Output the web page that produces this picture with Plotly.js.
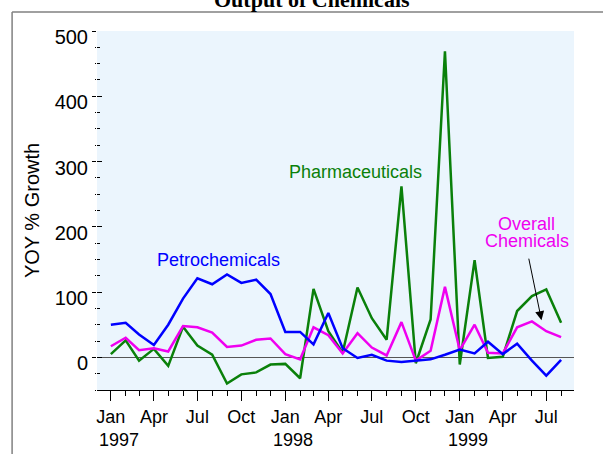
<!DOCTYPE html>
<html>
<head>
<meta charset="utf-8">
<script src="https://cdn.plot.ly/plotly-3.0.1.min.js"></script>
<style>
  html, body { margin: 0; padding: 0; background: #fff; }
  #chart { width: 603px; height: 454px; }
</style>
</head>
<body>
<div id="chart"></div>
<script>
// Monthly YOY growth, Jan 1997 - Aug 1999
const months = [
  '1997-01-01', '1997-02-01', '1997-03-01', '1997-04-01', '1997-05-01', '1997-06-01',
  '1997-07-01', '1997-08-01', '1997-09-01', '1997-10-01', '1997-11-01', '1997-12-01',
  '1998-01-01', '1998-02-01', '1998-03-01', '1998-04-01', '1998-05-01', '1998-06-01',
  '1998-07-01', '1998-08-01', '1998-09-01', '1998-10-01', '1998-11-01', '1998-12-01',
  '1999-01-01', '1999-02-01', '1999-03-01', '1999-04-01', '1999-05-01', '1999-06-01',
  '1999-07-01', '1999-08-01'
];

const petrochemicals = [
  50, 53, 35, 19, 50, 90, 121, 112, 127, 114, 119, 97,
  39, 39, 20, 68, 14, -1, 4, -5, -7, -5, -3, 4,
  12, 6, 24, 5, 21, -5, -28, -4
];

const pharmaceuticals = [
  5, 26, -5, 13, -13, 47, 18, 4, -40, -26, -23, -11,
  -10, -32, 105, 40, 7, 107, 60, 27, 262, -9, 58, 469,
  -11, 149, -1, 1, 71, 94, 104, 53
];

const overall = [
  17, 30, 11, 14, 9, 48, 46, 38, 16, 18, 27, 29,
  5, -3, 46, 34, 6, 37, 15, 3, 54, -5, 10, 108,
  11, 50, 7, 6, 46, 55, 40, 31
];

const majorTicks = ['1997-01-01', '1997-04-01', '1997-07-01', '1997-10-01',
  '1998-01-01', '1998-04-01', '1998-07-01', '1998-10-01',
  '1999-01-01', '1999-04-01', '1999-07-01'];
const majorLabels = ['Jan', 'Apr', 'Jul', 'Oct', 'Jan', 'Apr', 'Jul', 'Oct', 'Jan', 'Apr', 'Jul'];
const yearTicks = ['1997-01-01', '1998-01-01', '1999-01-01'];
const yearLabels = ['1997', '1998', '1999'];

const BLUE = '#0000ff';
const GREEN = '#0a800a';
const MAGENTA = '#f000f0';

const font = 'Liberation Sans, Arial, sans-serif';

const mkLine = (y, color, name) => ({
  x: months, y: y, type: 'scatter', mode: 'lines', name: name,
  line: { color: color, width: 2.5 }, hoverinfo: 'skip'
});

const traces = [
  mkLine(pharmaceuticals, GREEN, 'Pharmaceuticals'),
  mkLine(overall, MAGENTA, 'Overall Chemicals'),
  mkLine(petrochemicals, BLUE, 'Petrochemicals'),
  // empty trace so the inside tick overlay axis gets drawn
  { x: [], y: [], yaxis: 'y2', type: 'scatter', showlegend: false, hoverinfo: 'skip' }
];

const annotations = [
  // chart title, cut off at the top edge like the original
  { xref: 'paper', yref: 'paper', x: 0.451, y: 1.089, xanchor: 'center', yanchor: 'middle',
    text: '<b>Output of Chemicals</b>', showarrow: false,
    font: { family: 'Liberation Serif, Times New Roman, serif', size: 22, color: '#000' } },
  { x: '1997-08-15', y: 149, text: 'Petrochemicals', showarrow: false,
    font: { family: font, size: 18, color: BLUE } },
  { x: '1998-05-27', y: 284, text: 'Pharmaceuticals', showarrow: false,
    font: { family: font, size: 18, color: GREEN } },
  { x: '1999-05-21', y: 205, text: 'Overall', showarrow: false, height: 18,
    font: { family: font, size: 18, color: MAGENTA } },
  { x: '1999-05-21', y: 178, text: 'Chemicals', showarrow: false, height: 18,
    font: { family: font, size: 18, color: MAGENTA } },
  { x: '1999-06-21', y: 57, text: '', showarrow: true, arrowhead: 2, arrowsize: 1.8,
    arrowwidth: 1, arrowcolor: '#000', ax: -13, ay: -63 }
];
yearTicks.forEach((d, i) => annotations.push({
  x: d, xref: 'x', y: -0.139, yref: 'paper', text: yearLabels[i], showarrow: false,
  xanchor: 'left', xshift: -14, yanchor: 'middle',
  font: { family: font, size: 18, color: '#000' }
}));

const layout = {
  width: 603, height: 454,
  margin: { l: 97, r: 29, t: 31, b: 64 },
  paper_bgcolor: '#ffffff',
  plot_bgcolor: '#ebf5fd',
  showlegend: false,
  xaxis: {
    type: 'date',
    range: ['1996-12-03', '1999-08-28'],
    showgrid: false, zeroline: false,
    showline: true, linecolor: '#000', linewidth: 1,
    tickmode: 'array', tickvals: majorTicks, ticktext: majorLabels,
    ticks: 'outside', ticklen: 10, tickcolor: '#000', tickwidth: 1,
    minor: { dtick: 'M1', tick0: '1997-01-01', ticks: 'outside', ticklen: 5, tickcolor: '#000', tickwidth: 1, showgrid: false },
    tickfont: { family: font, size: 18, color: '#000' }
  },
  yaxis: {
    range: [-50, 500],
    showgrid: false, showline: false,
    zeroline: true, zerolinecolor: '#555', zerolinewidth: 1.5,
    tickvals: [0, 100, 200, 300, 400, 500],
    ticks: 'outside', ticklen: 4, tickcolor: '#000', tickwidth: 1,
    minor: { dtick: 25, tick0: 0, ticks: 'outside', ticklen: 1, tickcolor: '#000', tickwidth: 1, showgrid: false },
    tickfont: { family: font, size: 20, color: '#000' },
    ticklabelshift: 6,
    title: { text: 'YOY % Growth', standoff: 9, font: { family: font, size: 20, color: '#000' } }
  },
  yaxis2: {
    overlaying: 'y', side: 'left', range: [-50, 500],
    showgrid: false, showline: false, zeroline: false, showticklabels: false,
    tickvals: [0, 100, 200, 300, 400, 500],
    ticks: 'inside', ticklen: 5, tickcolor: '#000', tickwidth: 1,
    minor: { dtick: 25, tick0: 0, ticks: 'inside', ticklen: 3, tickcolor: '#000', tickwidth: 1, showgrid: false }
  },
  annotations: annotations,
  shapes: [
    // outer frame (top and left edges visible)
    { type: 'line', xref: 'paper', yref: 'paper', x0: -0.178, x1: 1.07, y0: 1.053, y1: 1.053,
      line: { color: '#808080', width: 1.5 } },
    { type: 'line', xref: 'paper', yref: 'paper', x0: -0.178, x1: -0.178, y0: 1.053, y1: -0.2,
      line: { color: '#808080', width: 1.5 } }
  ]
};

Plotly.newPlot('chart', traces, layout, { staticPlot: true, displayModeBar: false });
</script>
</body>
</html>
